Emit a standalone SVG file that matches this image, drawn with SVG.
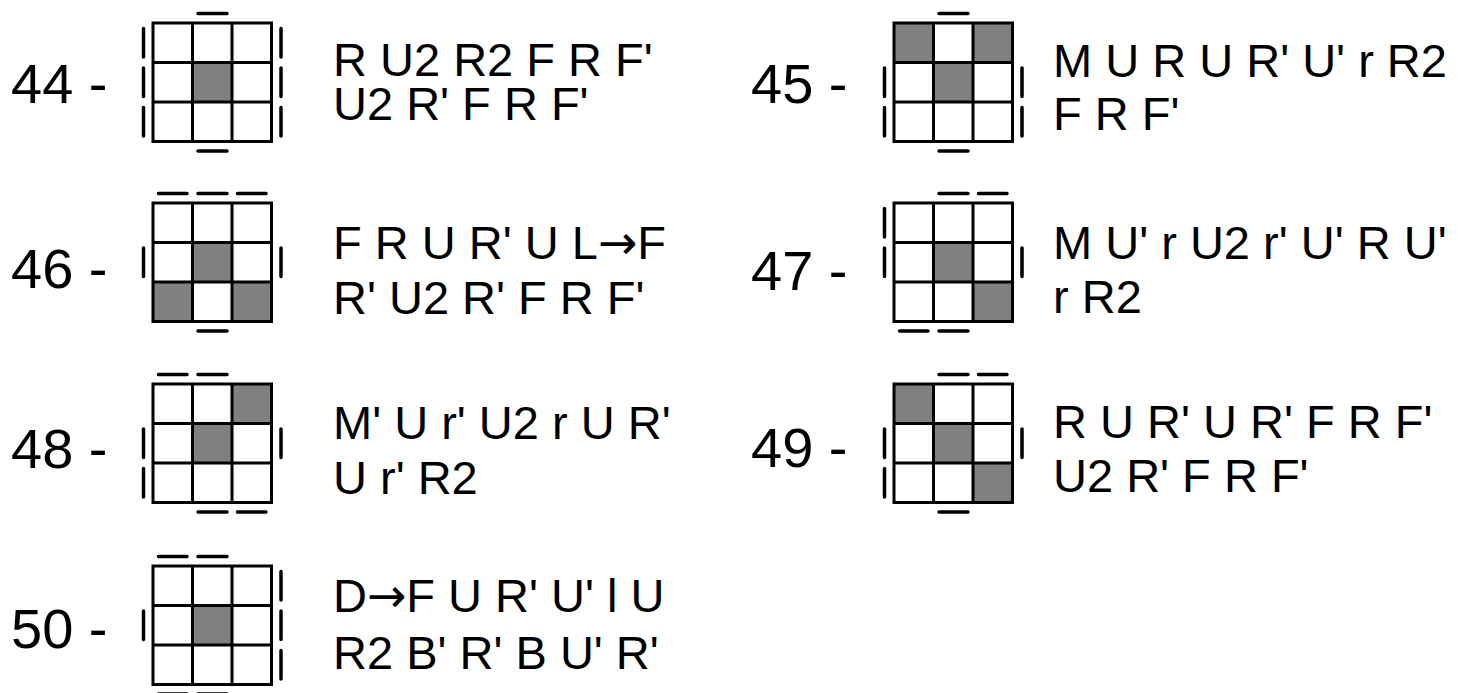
<svg xmlns="http://www.w3.org/2000/svg" xmlns:xlink="http://www.w3.org/1999/xlink" width="1469" height="693" viewBox="0 0 1469 693">
<style>
.grid{fill:none;stroke:#000;stroke-width:3;stroke-linejoin:miter}
.bar{stroke:#000;stroke-width:3.5;stroke-linecap:round;fill:none}
.g{fill:#808080}
.t{font-family:"Liberation Sans",Arial,sans-serif;font-size:47px;fill:#000}
.n{font-family:"Liberation Sans",Arial,sans-serif;font-size:56px;fill:#000}
.a{font-family:"DejaVu Sans",sans-serif}
</style>
<defs>
<path id="grid" class="grid" d="M0 0H118.5V118.5H0Z M39.5 0V118.5 M79 0V118.5 M0 39.5H118.5 M0 79H118.5"/>
</defs>
<rect width="1469" height="693" fill="#fff"/>

<g id="n44">
<text class="n" x="11" y="103">44 -</text>
<g transform="translate(153,23)">
<rect class="g" x="39.5" y="39.5" width="39.5" height="39.5"/>
<use xlink:href="#grid"/>
<path class="bar" d="M45 -9.5H74 M45 128H74 M-9.5 5.5V34 M-9.5 45V73.5 M-9.5 84.5V113 M128 5.5V34 M128 45V73.5 M128 84.5V113"/>
</g>
<text class="t" x="333" y="76">R U2 R2 F R F'</text>
<text class="t" x="333" y="120">U2 R' F R F'</text>
</g>

<g id="n45">
<text class="n" x="751" y="103">45 -</text>
<g transform="translate(894,23)">
<rect class="g" x="0" y="0" width="39.5" height="39.5"/>
<rect class="g" x="79" y="0" width="39.5" height="39.5"/>
<rect class="g" x="39.5" y="39.5" width="39.5" height="39.5"/>
<use xlink:href="#grid"/>
<path class="bar" d="M45 -9.5H74 M45 128H74 M-9.5 45V73.5 M-9.5 84.5V113 M128 45V73.5 M128 84.5V113"/>
</g>
<text class="t" x="1053" y="77">M U R U R' U' r R2</text>
<text class="t" x="1053" y="130">F R F'</text>
</g>

<g id="n46">
<text class="n" x="11" y="288">46 -</text>
<g transform="translate(153,203)">
<rect class="g" x="39.5" y="39.5" width="39.5" height="39.5"/>
<rect class="g" x="0" y="79" width="39.5" height="39.5"/>
<rect class="g" x="79" y="79" width="39.5" height="39.5"/>
<use xlink:href="#grid"/>
<path class="bar" d="M5.5 -9.5H34 M45 -9.5H74 M84.5 -9.5H113 M45 128H74 M-9.5 45V73.5 M128 45V73.5"/>
</g>
<text class="t" x="333" y="259">F R U R' U L<tspan class="a">→</tspan>F</text>
<text class="t" x="333" y="314">R' U2 R' F R F'</text>
</g>

<g id="n47">
<text class="n" x="751" y="290">47 -</text>
<g transform="translate(894,203)">
<rect class="g" x="39.5" y="39.5" width="39.5" height="39.5"/>
<rect class="g" x="79" y="79" width="39.5" height="39.5"/>
<use xlink:href="#grid"/>
<path class="bar" d="M45 -9.5H74 M84.5 -9.5H113 M5.5 128H34 M45 128H74 M-9.5 5.5V34 M-9.5 45V73.5 M128 45V73.5"/>
</g>
<text class="t" x="1053" y="259">M U' r U2 r' U' R U'</text>
<text class="t" x="1053" y="313">r R2</text>
</g>

<g id="n48">
<text class="n" x="11" y="468">48 -</text>
<g transform="translate(153,384)">
<rect class="g" x="79" y="0" width="39.5" height="39.5"/>
<rect class="g" x="39.5" y="39.5" width="39.5" height="39.5"/>
<use xlink:href="#grid"/>
<path class="bar" d="M5.5 -9.5H34 M45 -9.5H74 M45 128H74 M84.5 128H113 M-9.5 45V73.5 M-9.5 84.5V113 M128 45V73.5"/>
</g>
<text class="t" x="333" y="439">M' U r' U2 r U R'</text>
<text class="t" x="333" y="494">U r' R2</text>
</g>

<g id="n49">
<text class="n" x="751" y="467">49 -</text>
<g transform="translate(894,384)">
<rect class="g" x="0" y="0" width="39.5" height="39.5"/>
<rect class="g" x="39.5" y="39.5" width="39.5" height="39.5"/>
<rect class="g" x="79" y="79" width="39.5" height="39.5"/>
<use xlink:href="#grid"/>
<path class="bar" d="M45 -9.5H74 M84.5 -9.5H113 M45 128H74 M-9.5 45V73.5 M-9.5 84.5V113 M128 45V73.5"/>
</g>
<text class="t" x="1053" y="438">R U R' U R' F R F'</text>
<text class="t" x="1053" y="492">U2 R' F R F'</text>
</g>

<g id="n50">
<text class="n" x="11" y="648">50 -</text>
<g transform="translate(153,566)">
<rect class="g" x="39.5" y="39.5" width="39.5" height="39.5"/>
<use xlink:href="#grid"/>
<path class="bar" d="M5.5 -9.5H34 M45 -9.5H74 M5.5 128H34 M45 128H74 M-9.5 45V73.5 M128 5.5V34 M128 45V73.5 M128 84.5V113"/>
</g>
<text class="t" x="333" y="612">D<tspan class="a">→</tspan>F U R' U' l U</text>
<text class="t" x="333" y="669">R2 B' R' B U' R'</text>
</g>

<g id="connectors"/>
</svg>
